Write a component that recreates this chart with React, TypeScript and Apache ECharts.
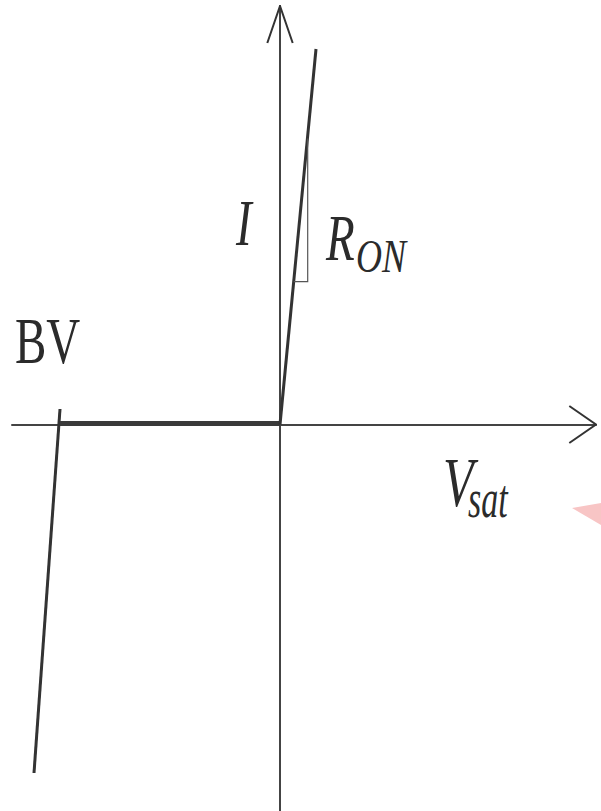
import React, { useEffect, useRef } from "react";
import * as echarts from "echarts";

// I–V characteristic of a switch: avalanche breakdown at BV, flat leakage,
// and an on-state line whose slope is R_ON. Units: V on x, I on y.
const breakdownV = [-24.6, -22.0];
const breakdownI = [-34.85, 1.55];

const leakageV = [-22.0, 0.0];
const leakageI = [0.1, 0.1];

const forwardV = [0.0, 3.6];
const forwardI = [0.0, 37.55];

// slope triangle under the on-state line
const ronV = [2.77, 2.77, 1.37];
const ronI = [28.6, 14.28, 14.28];

// open arrow heads at the ends of the axes
const arrowUpV = [-1.27, 0.0, 1.27];
const arrowUpI = [38.15, 41.85, 38.15];
const arrowRightV = [28.93, 31.6, 28.93];
const arrowRightI = [1.85, 0.0, -1.85];

const xRange = [-26.8, 31.6];
const yRange = [-38.65, 41.85];

const pairs = (xs: number[], ys: number[]) => xs.map((x, i) => [x, ys[i]]);

const SERIF = "Liberation Serif";

function lineSeries(name: string, xs: number[], ys: number[], width: number, color: string) {
  return {
    name,
    type: "line",
    data: pairs(xs, ys),
    symbol: "none",
    silent: true,
    lineStyle: { width, color, cap: "butt", join: "miter" },
    z: 3,
  };
}

function label(text: string, x: number, y: number, size: number, sy: number, italic: boolean) {
  return {
    type: "text",
    x,
    y,
    scaleY: sy,
    silent: true,
    style: {
      text,
      font: `${italic ? "italic " : ""}${size}px ${SERIF}`,
      fill: "#2b2b2b",
      align: "left",
      verticalAlign: "middle",
    },
    z: 10,
  };
}

export default function App() {
  const ref = useRef<HTMLDivElement>(null);

  useEffect(() => {
    if (!ref.current) return;
    const chart = echarts.init(ref.current, undefined, { renderer: "svg" });
    chart.setOption({
      animation: false,
      backgroundColor: "#ffffff",
      grid: { left: 12, right: 5, top: 6, bottom: 0, containLabel: false },
      xAxis: {
        type: "value",
        min: xRange[0],
        max: xRange[1],
        axisLine: { show: true, onZero: true, lineStyle: { color: "#444", width: 2 } },
        axisTick: { show: false },
        axisLabel: { show: false },
        splitLine: { show: false },
      },
      yAxis: {
        type: "value",
        min: yRange[0],
        max: yRange[1],
        axisLine: { show: true, onZero: true, lineStyle: { color: "#444", width: 2 } },
        axisTick: { show: false },
        axisLabel: { show: false },
        splitLine: { show: false },
      },
      series: [
        lineSeries("breakdown", breakdownV, breakdownI, 3, "#333"),
        lineSeries("leakage", leakageV, leakageI, 5, "#3a3a3a"),
        lineSeries("on-state", forwardV, forwardI, 3, "#333"),
        lineSeries("ron", ronV, ronI, 1.2, "#555"),
        lineSeries("arrowUp", arrowUpV, arrowUpI, 2, "#333"),
        lineSeries("arrowRight", arrowRightV, arrowRightI, 2, "#333"),
      ],
      graphic: [
        label("BV", 15, 341, 47, 1.38, false),
        label("I", 236, 223, 47, 1.38, true),
        label("R", 326, 238, 47, 1.38, true),
        label("ON", 356, 256, 36, 1.3, true),
        label("V", 443, 483, 50, 1.38, true),
        label("sat", 468, 499, 34, 1.6, true),
        {
          type: "polygon",
          silent: true,
          shape: { points: [[572, 508], [601, 503], [601, 525]] },
          style: { fill: "#f8c5c5" },
          z: 10,
        },
      ],
    });
    return () => chart.dispose();
  }, []);

  return (
    <div
      ref={ref}
      style={{ position: "absolute", left: 0, top: 0, width: 601, height: 811, background: "#fff" }}
    />
  );
}
